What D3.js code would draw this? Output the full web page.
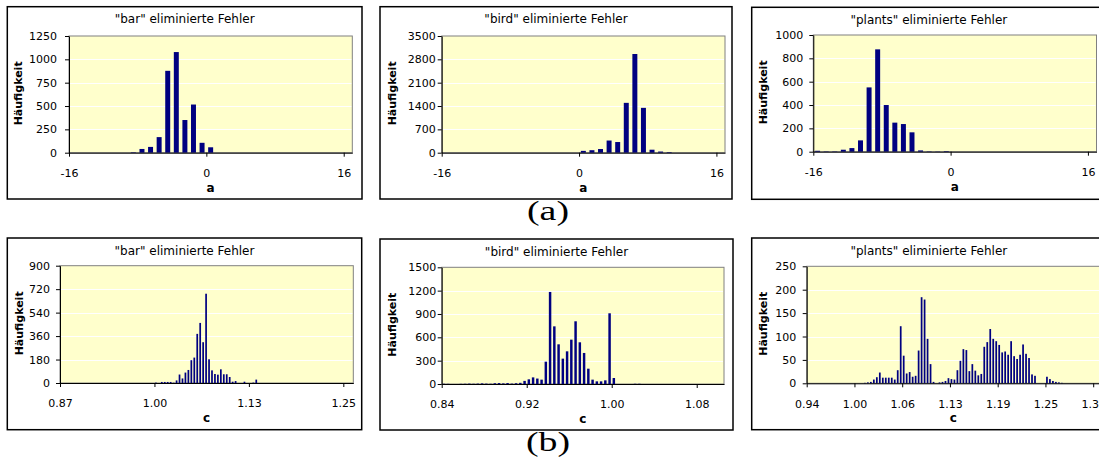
<!DOCTYPE html>
<html>
<head>
<meta charset="utf-8">
<script src="https://cdn.jsdelivr.net/npm/d3@7"></script>
<style>
  html, body { margin: 0; background: #fff; }
  svg { display: block; }
  .tick text { font-family: "DejaVu Sans", sans-serif; font-size: 11px; fill: #000; }
  .title { font-family: "DejaVu Sans", sans-serif; font-size: 12px; }
  .ylab { font-family: "DejaVu Sans", sans-serif; font-size: 11px; font-weight: bold; }
  .xlab { font-family: "DejaVu Sans", sans-serif; font-size: 12px; font-weight: bold; }
  .sub { font-family: "Liberation Serif", serif; font-size: 27px; }
</style>
</head>
<body>
<svg id="fig" width="1099" height="463"></svg>
<script>
// ---- values ----
// top row: parameter a, bins of width 1, given by lower bin edge
const aTicks = [-16, 0, 16];
const aTickLabels = ["-16", "0", "16"];

const barABins = [-9, -8, -7, -6, -5, -4, -3, -2, -1, 0];
const barACounts = [5, 40, 62, 167, 877, 1078, 350, 516, 106, 58];

const birdABins = [0, 1, 2, 3, 4, 5, 6, 7, 8, 9, 10];
const birdACounts = [55, 75, 110, 365, 320, 1495, 2960, 1345, 90, 35, 18];

const plantsABins = [-16, -15, -14, -13, -12, -11, -10, -9, -8, -7, -6, -5, -4, -3, -2, -1];
const plantsACounts = [8, 3, 3, 17, 31, 97, 551, 877, 400, 249, 237, 166, 11, 3, 2, 5];

// bottom row: parameter c, bins of width 1/256, given by bin number
const cBinWidth = 1 / 256;

const barCBins = [256, 257, 258, 259, 260, 261, 262, 263, 264, 265, 266, 267, 268, 269, 270,
  271, 272, 273, 274, 275, 276, 277, 278, 279, 280, 281, 282, 283, 284, 285, 286, 287, 288, 289, 290];
const barCCounts = [3, 0, 8, 8, 8, 8, 2, 20, 65, 35, 80, 100, 175, 195, 377,
  461, 313, 685, 182, 97, 69, 64, 105, 67, 67, 46, 10, 15, 0, 0, 10, 0, 0, 3, 26];

const birdCBins = [216, 217, 218, 219, 220, 221, 222, 223, 224, 225, 226, 227, 228, 229, 230,
  231, 232, 233, 234, 235, 236, 237, 238, 239, 240, 241, 242, 243, 244, 245, 246, 247, 248, 249,
  250, 251, 252, 253, 254, 255, 256, 257, 258, 259, 260, 261, 262];
const birdCCounts = [3, 2, 0, 0, 2, 3, 5, 3, 5, 8, 5, 3, 10, 12, 8,
  12, 5, 10, 15, 40, 60, 85, 70, 56, 287, 1183, 741, 510, 326, 420, 570, 806, 536, 399,
  197, 56, 34, 34, 47, 909, 77, 0, 0, 0, 0, 3, 3];

const plantsCBins = [259, 260, 261, 262, 263, 264, 265, 266, 267, 268, 269, 270, 271, 272, 273,
  274, 275, 276, 277, 278, 279, 280, 281, 282, 283, 284, 285, 286, 287, 288, 289, 290, 291, 292,
  293, 294, 295, 296, 297, 298, 299, 300, 301, 302, 303, 304, 305, 306, 307, 308, 309, 310, 311,
  312, 313, 314, 315, 316, 317, 318, 319, 320, 321, 322, 323, 324, 325];
const plantsCCounts = [1, 2, 3, 8, 13, 23, 12, 12, 12, 12, 8, 28, 122, 59, 21,
  24, 14, 16, 70, 184, 179, 95, 41, 3, 0, 2, 3, 5, 11, 9, 8, 28, 48, 73,
  71, 26, 41, 27, 17, 20, 78, 88, 116, 95, 90, 82, 66, 68, 61, 90, 58, 52, 61,
  83, 63, 54, 19, 16, 0, 0, 0, 14, 9, 5, 3, 2, 1];

const barCTicks = [0.875, 1.0, 1.125, 1.25];
const barCTickLabels = ["0.87", "1.00", "1.13", "1.25"];
const birdCTicks = [0.84375, 0.921875, 1.0, 1.078125];
const birdCTickLabels = ["0.84", "0.92", "1.00", "1.08"];
const plantsCTicks = [0.9375, 1.0, 1.0625, 1.125, 1.1875, 1.25, 1.3125];
const plantsCTickLabels = ["0.94", "1.00", "1.06", "1.13", "1.19", "1.25", "1.31"];

const barAY = [0, 250, 500, 750, 1000, 1250];
const birdAY = [0, 700, 1400, 2100, 2800, 3500];
const plantsAY = [0, 200, 400, 600, 800, 1000];
const barCY = [0, 180, 360, 540, 720, 900];
const birdCY = [0, 300, 600, 900, 1200, 1500];
const plantsCY = [0, 50, 100, 150, 200, 250];

// ---- layout ----
const svg = d3.select("#fig");

const panels = [
  { title: '"bar" eliminierte Fehler', xlab: "a", bins: barABins, counts: barACounts, bw: 1,
    xd: [-16, 17], xt: aTicks, xtl: aTickLabels, yt: barAY,
    box: [7.3, 6.7, 362, 199], plot: [69, 36, 352.3, 152.7], ypad: 8, ylx: 18.5 },
  { title: '"bird" eliminierte Fehler', xlab: "a", bins: birdABins, counts: birdACounts, bw: 1,
    xd: [-16, 17], xt: aTicks, xtl: aTickLabels, yt: birdAY,
    box: [380, 6.7, 732, 199], plot: [441.7, 36, 725, 152.7], ypad: 2, ylx: 391.7 },
  { title: '"plants" eliminierte Fehler', xlab: "a", bins: plantsABins, counts: plantsACounts, bw: 1,
    xd: [-16, 17], xt: aTicks, xtl: aTickLabels, yt: plantsAY,
    box: [751.7, 7.3, 1106, 199.3], plot: [813.3, 35, 1096.5, 151.7], ypad: 6, ylx: 763.3 },
  { title: '"bar" eliminierte Fehler', xlab: "c", bins: barCBins, counts: barCCounts, bw: cBinWidth,
    xd: [0.875, 1.2632], xt: barCTicks, xtl: barCTickLabels, yt: barCY,
    box: [7.3, 238, 361.7, 429.7], plot: [60, 265.7, 353.3, 383], ypad: 6, ylx: 18.7 },
  { title: '"bird" eliminierte Fehler', xlab: "c", bins: birdCBins, counts: birdCCounts, bw: cBinWidth,
    xd: [0.84375, 1.1032], xt: birdCTicks, xtl: birdCTickLabels, yt: birdCY,
    box: [380, 239, 733, 430], plot: [441.7, 267.3, 724, 384], ypad: 1.5, ylx: 391.7 },
  { title: '"plants" eliminierte Fehler', xlab: "c", bins: plantsCBins, counts: plantsCCounts, bw: cBinWidth,
    xd: [0.9375, 1.3214], xt: plantsCTicks, xtl: plantsCTickLabels, yt: plantsCY,
    box: [751.7, 238, 1106, 429.7], plot: [806.7, 266.3, 1100, 383.3], ypad: 6.5, ylx: 763.3 }
];

function drawPanel(p) {
  const [bx0, by0, bx1, by1] = p.box;
  const [px0, py0, px1, py1] = p.plot;
  const g = svg.append("g");

  const x = d3.scaleLinear().domain(p.xd).range([px0, px1]);
  const y = d3.scaleLinear().domain([0, d3.max(p.yt)]).range([py1, py0]);

  // chart frame
  g.append("rect")
    .attr("x", bx0).attr("y", by0)
    .attr("width", bx1 - bx0).attr("height", by1 - by0)
    .attr("fill", "#fff").attr("stroke", "#000").attr("stroke-width", 1.5);

  // plot area
  g.append("rect")
    .attr("x", px0).attr("y", py0)
    .attr("width", px1 - px0).attr("height", py1 - py0)
    .attr("fill", "#ffffcc").attr("stroke", "#808080").attr("stroke-width", 1);

  // grid
  g.append("g").selectAll("line")
    .data(p.yt.slice(1, -1))
    .join("line")
    .attr("x1", px0 + 1).attr("x2", px1 - 1)
    .attr("y1", d => Math.round(y(d)) + 0.5).attr("y2", d => Math.round(y(d)) + 0.5)
    .attr("stroke", "#fff").attr("stroke-width", 1);

  // bars (bin number * bin width = lower edge of the bin)
  const step = x(p.xd[0] + p.bw) - x(p.xd[0]);
  const bw = Math.max(step * 0.58, 1.6);
  g.append("g").selectAll("rect")
    .data(p.counts.map((c, i) => ({ v: p.bins[i] * p.bw, c })))
    .join("rect")
    .attr("x", d => x(d.v + p.bw / 2) - bw / 2)
    .attr("width", bw)
    .attr("y", d => y(d.c))
    .attr("height", d => y(0) - y(d.c))
    .attr("fill", "#000080");

  // axes
  const yAxis = d3.axisLeft(y).tickValues(p.yt).tickFormat(d => String(d))
    .tickSize(4).tickSizeOuter(0).tickPadding(p.ypad);
  const ya = g.append("g").attr("transform", `translate(${px0},0)`).call(yAxis);
  const xAxis = d3.axisBottom(x).tickValues(p.xt).tickFormat((d, i) => p.xtl[i])
    .tickSize(4).tickSizeOuter(0).tickPadding(12.5);
  const xa = g.append("g").attr("transform", `translate(0,${py1})`).call(xAxis);
  [ya, xa].forEach(a => {
    a.select(".domain").attr("stroke", "#000");
    a.selectAll(".tick line").attr("stroke", "#000");
    a.attr("font-family", null).attr("font-size", null);
  });

  // titles
  g.append("text").attr("class", "title")
    .attr("x", (bx0 + bx1) / 2).attr("y", by0 + 16.5)
    .attr("text-anchor", "middle").text(p.title);
  g.append("text").attr("class", "xlab")
    .attr("x", (px0 + px1) / 2).attr("y", py1 + 39)
    .attr("text-anchor", "middle").text(p.xlab);
  g.append("text").attr("class", "ylab")
    .attr("transform", `translate(${p.ylx},${(py0 + py1) / 2 - 1}) rotate(-90)`)
    .attr("dy", "0.35em").attr("text-anchor", "middle").text("Häufigkeit");
}

panels.forEach(drawPanel);

// sub-figure labels
svg.append("text").attr("class", "sub")
  .attr("transform", "translate(548,220) scale(1.4,1)")
  .attr("text-anchor", "middle").text("(a)");
svg.append("text").attr("class", "sub")
  .attr("transform", "translate(548,451) scale(1.4,1)")
  .attr("text-anchor", "middle").text("(b)");
</script>
</body>
</html>
